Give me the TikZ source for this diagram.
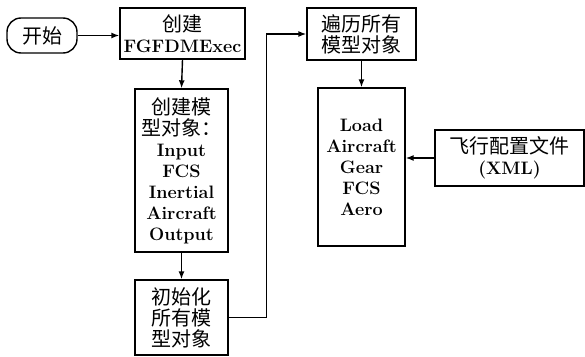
\documentclass[tikz,border=0pt]{standalone}
\usepackage{fontspec}
\newfontfamily\cjkfam{Noto Sans CJK SC}
\newcommand\cj[1]{{\cjkfam\mdseries\fontsize{20}{21}\selectfont #1}}
\usetikzlibrary{arrows.meta}
\begin{document}
\begin{tikzpicture}[x=1pt,y=-1pt,
  box/.style={draw,line width=1.4pt,align=center,inner sep=0pt,font=\fontsize{18}{21}\selectfont\bfseries},
  arr/.style={line width=1.4pt,-{Latex[length=8pt,width=6pt]}}]
\useasboundingbox (0,0) rectangle (585,356);
\node[box,rounded corners=14pt,minimum width=70pt,minimum height=35pt] (start) at (42,35.5) {\cj{开始}};
\node[box,minimum width=125pt,minimum height=51pt] (b1) at (182.5,33.5) {\cj{创建}\\FGFDMExec};
\node[box,minimum width=93pt,minimum height=163pt] (b2) at (181.5,170.5) {\cj{创建模}\\\cj{型对象：}\\Input\\FCS\\Inertial\\Aircraft\\Output};
\node[box,minimum width=93pt,minimum height=75pt] (b3) at (181.5,317.5) {\cj{初始化}\\\cj{所有模}\\\cj{型对象}};
\node[box,minimum width=109pt,minimum height=52pt] (b4) at (361.5,34) {\cj{遍历所有}\\\cj{模型对象}};
\node[box,minimum width=87pt,minimum height=158pt] (b5) at (361.5,167) {Load\\Aircraft\\Gear\\FCS\\Aero};
\node[box,minimum width=149pt,minimum height=56pt] (b6) at (509.5,158) {\cj{飞行配置文件}\\(XML)};
\draw[arr] (start.east) -- (start.east -| b1.west);
\draw[arr] (b1.south) -- (b2.north);
\draw[arr] (b2.south) -- (b3.north);
\draw[arr] (b3.east) -- ++(38,0) |- (b4.west);
\draw[arr] (b4.south) -- (b5.north);
\draw[arr] (b6.west) -- (b6.west -| b5.east);
\end{tikzpicture}
\end{document}
